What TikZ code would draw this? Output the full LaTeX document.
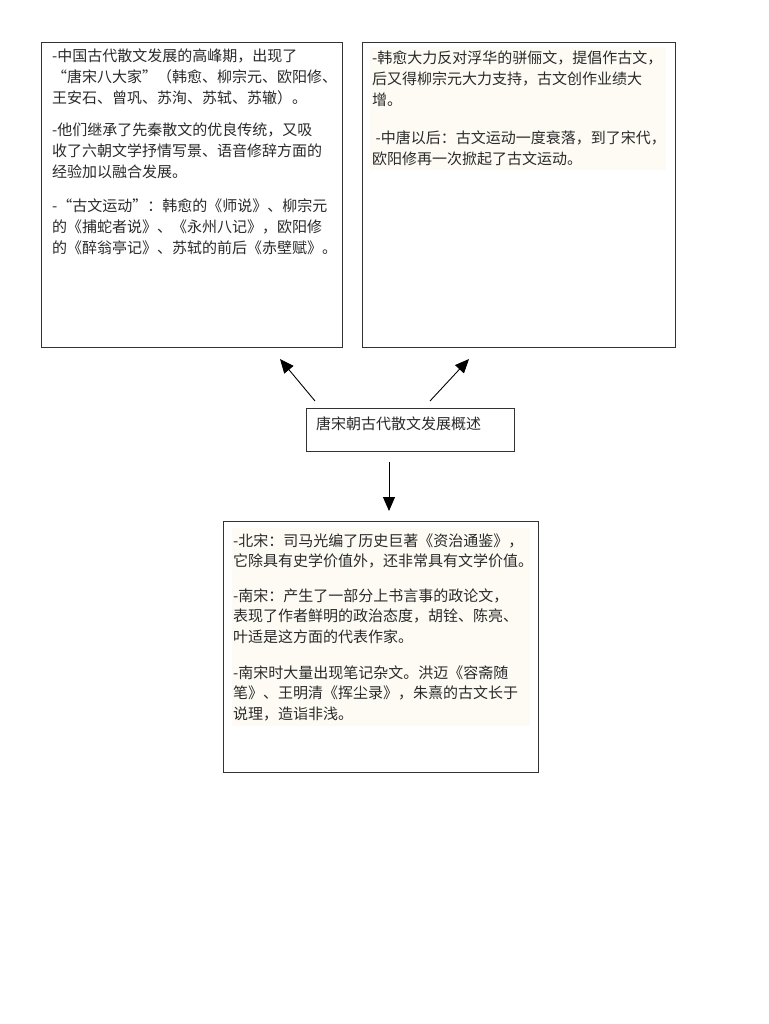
\documentclass[tikz,border=0pt]{standalone}
\usepackage{fontspec}
\newfontfamily\cjk{Noto Sans CJK SC}
\usetikzlibrary{arrows.meta}
\definecolor{cream}{HTML}{FDFBF4}
\definecolor{txt}{HTML}{2A2A2A}
\definecolor{edge}{HTML}{333333}
\newcommand{\plines}[1]{\vtop{\let\\\cr\baselineskip=20.8pt\lineskiplimit=-20pt\halign{##\hfil\cr#1\crcr}}}
\tikzset{
  boxnode/.style={draw=edge, line width=0.9pt, anchor=north west, inner sep=0pt, fill=white},
  para/.style={anchor=base west, inner sep=0pt, text=txt,
    font=\cjk\fontsize{15}{20.8}\selectfont},
  hl/.style={fill=cream, draw=none},
  arr/.style={draw=black, line width=0.9pt, -{Triangle[length=14pt,width=12pt]}}
}
\begin{document}
\begin{tikzpicture}[x=1pt,y=-1pt]
\useasboundingbox (0,0) rectangle (768,1024);
\fill[white] (0,0) rectangle (768,1024);
% boxes
\node[boxnode, minimum width=301pt, minimum height=305pt] (lbox) at (41,42) {};
\node[boxnode, minimum width=313pt, minimum height=305pt] (rbox) at (362,42) {};
\node[boxnode, minimum width=208pt, minimum height=43pt] (cbox) at (306,408) {};
\node[boxnode, minimum width=315pt, minimum height=251pt] (bbox) at (223,521) {};
% highlights
\fill[hl] (370,47) rectangle (666,170);
\fill[hl] (232,528) rectangle (530,726);
% left box text
\node[para] (l1) at (52,62) {\plines{-中国古代散文发展的高峰期，出现了\\“唐宋八大家”（韩愈、柳宗元、欧阳修、\\王安石、曾巩、苏洵、苏轼、苏辙）。}};
\node[para] (l2) at (52,136) {\plines{-他们继承了先秦散文的优良传统，又吸\\收了六朝文学抒情写景、语音修辞方面的\\经验加以融合发展。}};
\node[para] (l3) at (52,212) {\plines{-“古文运动”：韩愈的《师说》、柳宗元\\的《捕蛇者说》、《永州八记》，欧阳修\\的《醉翁亭记》、苏轼的前后《赤壁赋》。}};
% right box text
\node[para] (r1) at (372,64) {\plines{-韩愈大力反对浮华的骈俪文，提倡作古文，\\后又得柳宗元大力支持，古文创作业绩大\\增。}};
\node[para] (r2) at (372,144) {\plines{\ -中唐以后：古文运动一度衰落，到了宋代，\\欧阳修再一次掀起了古文运动。}};
% center text
\node[para] (c1) at (316,429) {唐宋朝古代散文发展概述};
% bottom box text
\node[para] (b1) at (233,546) {\plines{-北宋：司马光编了历史巨著《资治通鉴》，\\它除具有史学价值外，还非常具有文学价值。}};
\node[para] (b2) at (233,601) {\plines{-南宋：产生了一部分上书言事的政论文，\\表现了作者鲜明的政治态度，胡铨、陈亮、\\叶适是这方面的代表作家。}};
\node[para] (b3) at (233,678) {\plines{-南宋时大量出现笔记杂文。洪迈《容斋随\\笔》、王明清《挥尘录》，朱熹的古文长于\\说理，造诣非浅。}};
% arrows
\coordinate (a1s) at (315,401);
\coordinate (a1e) at (280,359);
\coordinate (a2s) at (430,401);
\coordinate (a2e) at (469,359);
\coordinate (a3s) at (389,462);
\coordinate (a3e) at (389,511);
\draw[arr] (a1s) -- (a1e);
\draw[arr] (a2s) -- (a2e);
\draw[arr] (a3s) -- (a3e);
\end{tikzpicture}
\end{document}
